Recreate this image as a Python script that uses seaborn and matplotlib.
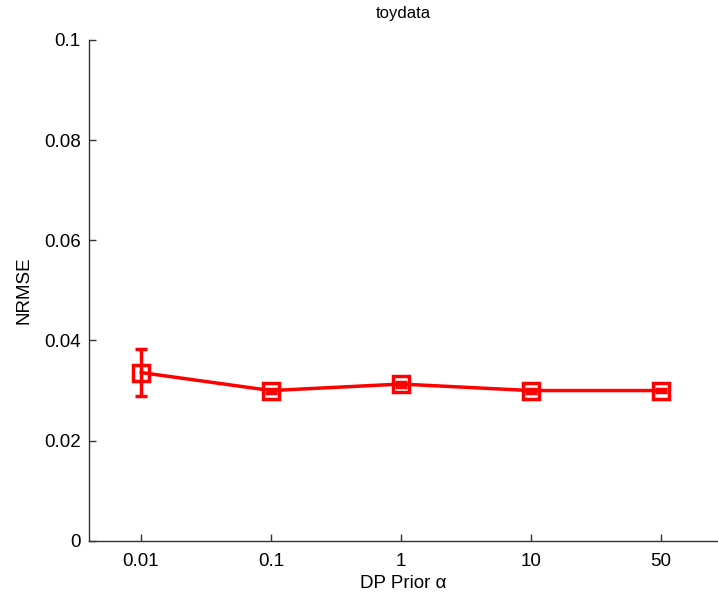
import numpy as np
import pandas as pd
import matplotlib
matplotlib.use('Agg')
import matplotlib.pyplot as plt
import seaborn as sns

# datos
alphas = ['0.01', '0.1', '1', '10', '50']
nrmse = [0.0336, 0.0300, 0.0313, 0.0300, 0.0300]
err = [0.0046, 0.0004, 0.0005, 0.0004, 0.0003]

df = pd.DataFrame({'pos': np.arange(len(alphas)), 'nrmse': nrmse})

sns.set_style('white', {'xtick.bottom': True, 'ytick.left': True})
plt.rcParams['font.family'] = ['Liberation Sans', 'DejaVu Sans']

fig = plt.figure(figsize=(7.18, 5.95), dpi=100)
ax = fig.add_axes([0.124, 0.091, 0.876, 0.842])

sns.lineplot(data=df, x='pos', y='nrmse', color='red', linewidth=2.5,
             marker='s', markersize=12, markerfacecolor='none',
             markeredgecolor='red', markeredgewidth=2.5, ax=ax)
ax.errorbar(df['pos'], df['nrmse'], yerr=err, fmt='none', ecolor='red',
            elinewidth=2.5, capsize=4, capthick=2.5)

ax.set_xlim(-0.4, 4.44)
ax.set_ylim(0, 0.1)
ax.set_xticks(df['pos'])
ax.set_xticklabels(alphas)
ax.set_yticks([0, 0.02, 0.04, 0.06, 0.08, 0.1])
ax.set_yticklabels(['0', '0.02', '0.04', '0.06', '0.08', '0.1'])
ax.tick_params(direction='in', length=5, width=1, labelsize=13.5,
               color='#333333', labelcolor='black', pad=6)
ax.tick_params(axis='x', pad=9)

sns.despine(ax=ax)
for s in ['left', 'bottom']:
    ax.spines[s].set_color('#333333')
    ax.spines[s].set_linewidth(1)

ax.set_xlabel('DP Prior α', fontsize=13.5, labelpad=3, color='black')
ax.set_ylabel('NRMSE', fontsize=13.5, labelpad=8, color='black')
ax.set_title('toydata', fontsize=12, pad=16, color='black')

fig.savefig('out.png', dpi=100)
